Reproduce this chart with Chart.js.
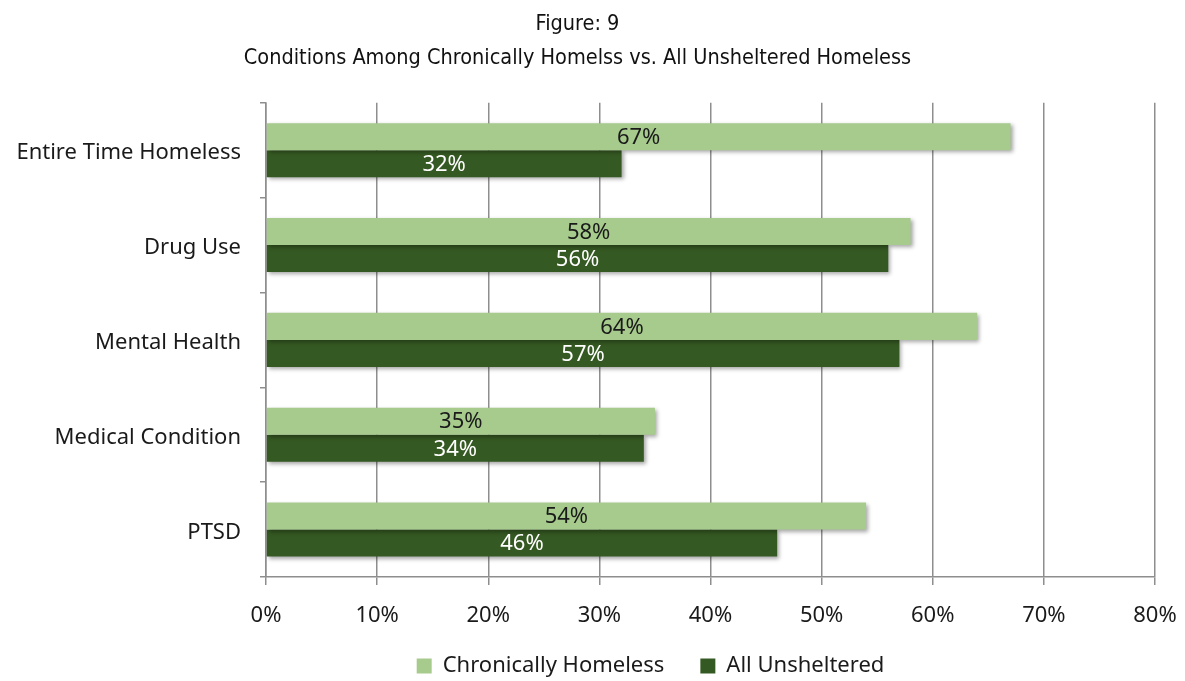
<!DOCTYPE html>
<html>
<head>
<meta charset="utf-8">
<script src="https://cdn.jsdelivr.net/npm/chart.js@4.4.1/dist/chart.umd.min.js"></script>
<style>
  html, body { margin: 0; padding: 0; background: #fff; }
  #wrap { width: 1185px; height: 681px; }
</style>
</head>
<body>
<div id="wrap"><canvas id="chart" width="1185" height="681"></canvas></div>
<script>
const categories = ['Entire Time Homeless', 'Drug Use', 'Mental Health', 'Medical Condition', 'PTSD'];
const chronicallyHomeless = [67, 58, 64, 35, 54];
const allUnsheltered = [32, 56, 57, 34, 46];
const xTicks = [0, 10, 20, 30, 40, 50, 60, 70, 80];

const LIGHT = '#a6cb8c';
const DARK = '#355922';
const GRID = '#8e8e8e';
const FONT = "'Noto Sans', Lato, sans-serif";

// soft drop shadow under the bars
const barShadow = {
  id: 'barShadow',
  beforeDatasetDraw(chart) {
    const ctx = chart.ctx;
    ctx.save();
    ctx.shadowColor = 'rgba(0,0,0,0.35)';
    ctx.shadowBlur = 4;
    ctx.shadowOffsetX = 2;
    ctx.shadowOffsetY = 2;
  },
  afterDatasetDraw(chart) {
    chart.ctx.restore();
  },
};

// value labels centred inside each bar
const barLabels = {
  id: 'barLabels',
  afterDatasetsDraw(chart) {
    const ctx = chart.ctx;
    ctx.save();
    ctx.font = '22px ' + FONT;
    ctx.textAlign = 'center';
    ctx.textBaseline = 'middle';
    chart.data.datasets.forEach((ds, i) => {
      const meta = chart.getDatasetMeta(i);
      ctx.fillStyle = i === 0 ? '#1a1a1a' : '#ffffff';
      meta.data.forEach((bar, j) => {
        const cx = (bar.x + bar.base) / 2;
        ctx.fillText(ds.data[j] + '%', cx, bar.y + 1);
      });
    });
    ctx.restore();
  },
};

// legend keeps wide item spacing (labels.padding) without eating plot height,
// then gets nudged to where the original sits
const legendPlace = {
  id: 'legendPlace',
  afterInit(chart) {
    const lg = chart.legend;
    const fit = lg.fit;
    lg.fit = function () {
      fit.call(this);
      this.height = 40;
    };
  },
  afterLayout(chart) {
    const lg = chart.legend;
    lg.top -= 18;
    lg.height = 80;
    lg.bottom = lg.top + 80;
    lg.left += 73;
    lg.right += 73;
  },
};

new Chart(document.getElementById('chart'), {
  type: 'bar',
  data: {
    labels: categories,
    datasets: [
      { label: 'Chronically Homeless', data: chronicallyHomeless, backgroundColor: LIGHT },
      { label: 'All Unsheltered', data: allUnsheltered, backgroundColor: DARK },
    ],
  },
  options: {
    indexAxis: 'y',
    responsive: false,
    animation: false,
    devicePixelRatio: 1,
    layout: { padding: { left: 0, right: 30, top: 0, bottom: 4 } },
    datasets: {
      bar: { categoryPercentage: 0.57, barPercentage: 1.0 },
    },
    scales: {
      x: {
        min: 0,
        max: 80,
        afterBuildTicks(axis) {
          axis.ticks = xTicks.map((v) => ({ value: v }));
        },
        afterFit(axis) {
          axis.height = 60;
          axis.paddingRight = 10;
        },
        ticks: {
          callback: (v) => v + '%',
          color: '#1a1a1a',
          font: { family: FONT, size: 22 },
          padding: 18,
        },
        grid: { color: GRID, lineWidth: 1.5, tickLength: 8 },
        border: { display: true, color: GRID, width: 1.5 },
      },
      y: {
        afterFit(axis) { axis.width = 266; },
        ticks: {
          color: '#1a1a1a',
          font: { family: FONT, size: 22 },
          padding: 19,
          labelOffset: 3,
        },
        grid: { drawOnChartArea: false, drawTicks: true, tickLength: 6, color: GRID, lineWidth: 1.5, offset: true },
        border: { display: true, color: GRID, width: 1.5 },
      },
    },
    plugins: {
      title: {
        display: true,
        text: ['Figure: 9', 'Conditions Among Chronically Homelss vs. All Unsheltered Homeless'],
        color: '#111',
        font: { family: "'DejaVu Sans Condensed', 'Liberation Sans Narrow', sans-serif", size: 21.5, weight: 'normal', lineHeight: 1.6 },
        padding: { top: 7, bottom: 27 },
      },
      legend: {
        position: 'bottom',
        labels: {
          color: '#1a1a1a',
          font: { family: FONT, size: 22 },
          boxWidth: 15,
          boxHeight: 15,
          padding: 36,
        },
      },
      tooltip: { enabled: false },
    },
  },
  plugins: [barShadow, barLabels, legendPlace],
});
</script>
</body>
</html>
